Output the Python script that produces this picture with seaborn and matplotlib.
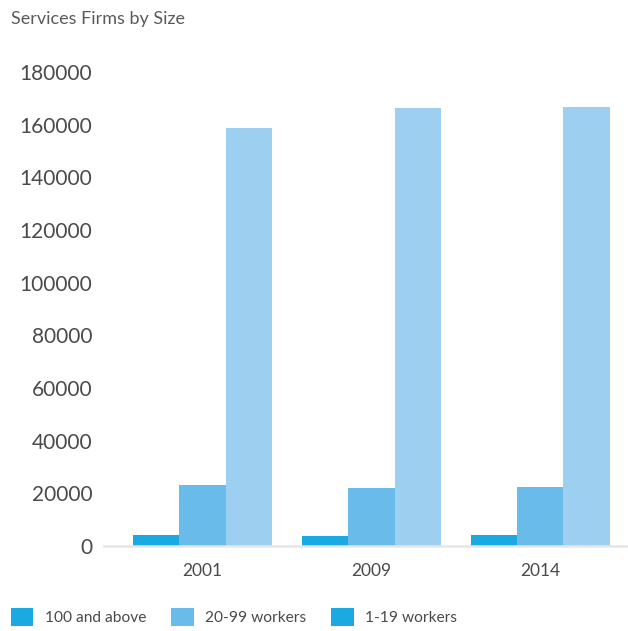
import pandas as pd
import matplotlib.pyplot as plt
import seaborn as sns
from matplotlib.patches import Patch

# Data
years = ['2001', '2009', '2014']
size_groups = ['100 and above', '20-99 workers', '1-19 workers']
firms_100_above = [4300, 3900, 4300]
firms_20_99 = [23300, 22100, 22500]
firms_1_19 = [158600, 166200, 166800]

bar_colors = ['#1ba9e1', '#69bbe9', '#9dcff0']
legend_colors = ['#1ba9e1', '#69bbe9', '#1ba9e1']

df = pd.DataFrame({
    'year': years * 3,
    'group': [g for g in size_groups for _ in years],
    'firms': firms_100_above + firms_20_99 + firms_1_19,
})

sns.set_style('white')
plt.rcParams['font.family'] = ['Lato', 'DejaVu Sans']

fig = plt.figure(figsize=(6.28, 6.31), dpi=100)
ax = fig.add_axes([104 / 628, 1 - 546 / 631, 524 / 628, (546 - 72) / 631])

sns.barplot(data=df, x='year', y='firms', hue='group', hue_order=size_groups,
            palette=bar_colors, width=0.824, saturation=1, linewidth=0,
            ax=ax, legend=False)

ax.set_ylim(0, 180000)
ax.set_xlim(-0.584, 2.52)
ax.set_yticks(range(0, 180001, 20000))
ax.set_xlabel('')
ax.set_ylabel('')

for side in ['top', 'right', 'left']:
    ax.spines[side].set_visible(False)
ax.spines['bottom'].set_color('#e6e6e6')
ax.spines['bottom'].set_linewidth(1.8)

ax.tick_params(axis='y', length=0, pad=8.5, labelsize=15, labelcolor='#4a4a4a')
ax.tick_params(axis='x', length=0, pad=12, labelsize=12.5, labelcolor='#4a4a4a')

fig.text(11 / 628, 1 - 19 / 631, 'Services Firms by Size', fontsize=13,
         color='#5a5a5a', va='center', ha='left')

handles = [Patch(facecolor=c, edgecolor='none') for c in legend_colors]
leg = fig.legend(handles, size_groups, loc='lower left', ncol=3,
                 bbox_to_anchor=(0 / 628, -6 / 631), frameon=False,
                 fontsize=11.2, handlelength=1.45, handleheight=1.45,
                 handletextpad=0.75, columnspacing=1.58, borderaxespad=0.3)
for t in leg.get_texts():
    t.set_color('#4a4a4a')

fig.savefig('out.png', dpi=100)
